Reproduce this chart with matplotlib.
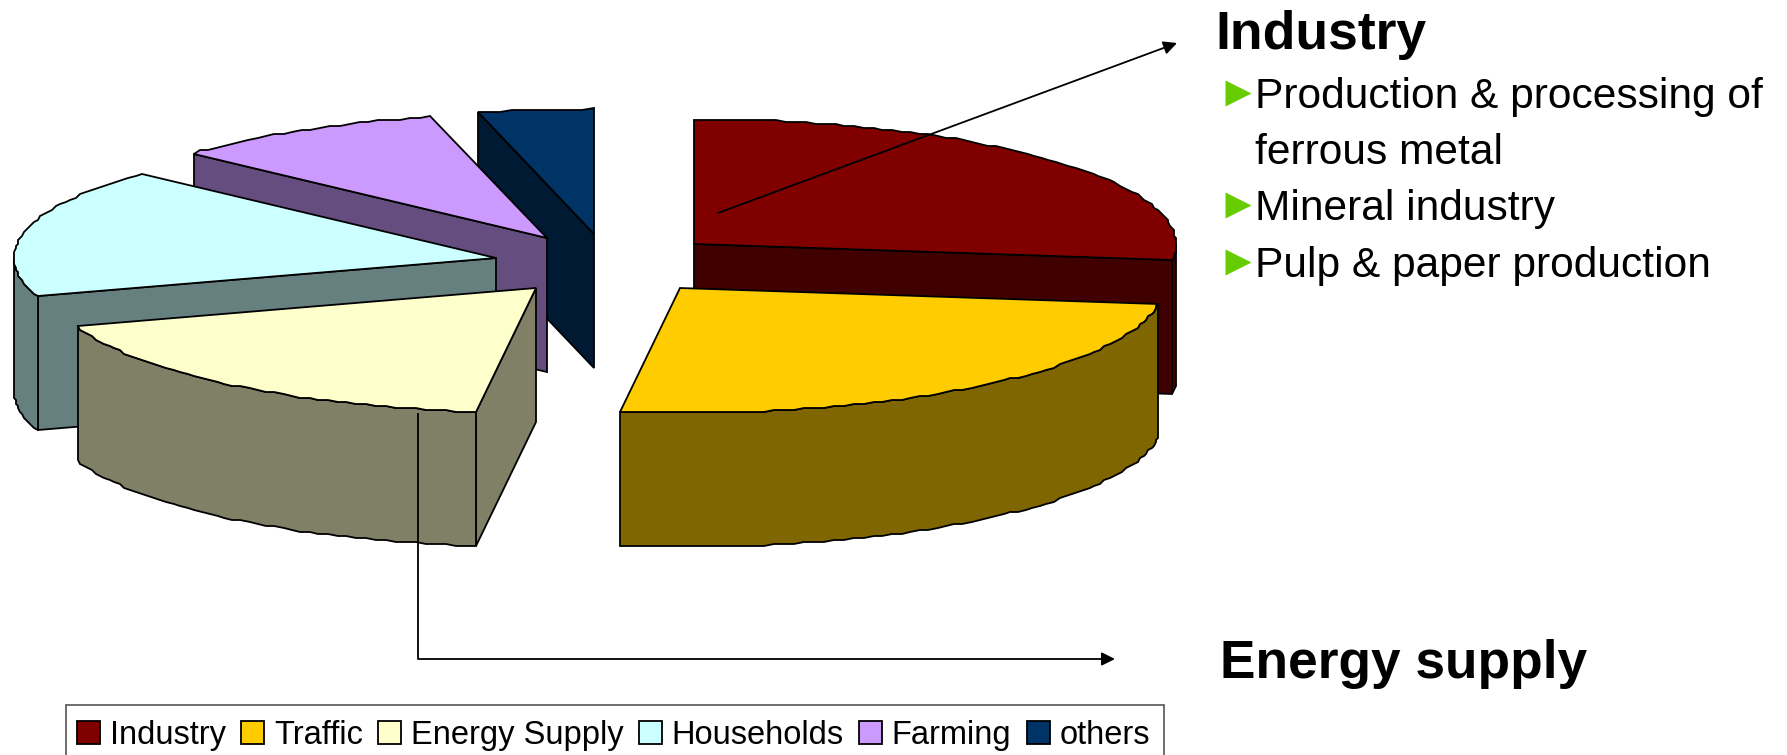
import matplotlib
matplotlib.use('Agg')
import matplotlib.pyplot as plt
import numpy as np
from matplotlib.patches import Patch, Polygon, Rectangle

plt.rcParams['font.family'] = ['Liberation Sans', 'DejaVu Sans']

# shares in percent
categories = ['Industry', 'Traffic', 'Energy Supply', 'Households', 'Farming', 'others']
shares = [27, 25, 18, 16.9, 9.2, 3.9]
top_colors = ['#800000', '#FFCC00', '#FFFFCC', '#CCFFFF', '#CC99FF', '#003366']
side_colors = ['#400000', '#806600', '#808066', '#668080', '#664D80', '#001A33']

industry_items = ['Production & processing of', 'ferrous metal', 'Mineral industry', 'Pulp & paper production']

# layout of the fake 3d pie, in pixels
apex_x = [694, 680, 536, 496, 547, 594]
apex_y = [244, 288, 288, 258, 238, 234]
radius_x = 482
radius_y = 125
depth = 134
draw_order = [5, 4, 3, 0, 2, 1]


def arc(cx, cy, start, end):
    t = np.radians(np.linspace(start, end, max(int(abs(end - start) / 1.2), 2)))
    x = cx + radius_x * np.sin(t)
    y = cy - radius_y * np.cos(t)
    # the original outline is slightly stepped
    return np.column_stack([np.round(x / 2) * 2, np.round(y / 2) * 2])


fig, ax = plt.subplots(figsize=(17.87, 7.55), dpi=100)
fig.subplots_adjust(0, 0, 1, 1)
ax.set_xlim(0, 1787)
ax.set_ylim(755, 0)
ax.axis('off')

edges = np.concatenate([[0], np.cumsum(shares)]) / np.sum(shares) * 360

for i in draw_order:
    cx, cy = apex_x[i], apex_y[i]
    start, end = edges[i], edges[i + 1]
    rim = arc(cx, cy, start, end)
    drop = np.array([0, depth])

    # radial cut faces, only the ones turned towards the viewer
    if start > 180:
        p = rim[0]
        ax.add_patch(Polygon([(cx, cy), p, p + drop, (cx, cy + depth)], fc=side_colors[i], ec='black', lw=1.3))
    if end < 180:
        p = rim[-1]
        ax.add_patch(Polygon([(cx, cy), p, p + drop, (cx, cy + depth)], fc=side_colors[i], ec='black', lw=1.3))

    # outer wall only where it faces the viewer
    lo, hi = max(start, 90), min(end, 270)
    if lo < hi:
        wall = arc(cx, cy, lo, hi)
        ax.add_patch(Polygon(np.vstack([wall, (wall + drop)[::-1]]), fc=side_colors[i], ec='black', lw=1.3))

    ax.add_patch(Polygon(np.vstack([[(cx, cy)], rim]), fc=top_colors[i], ec='black', lw=1.3, joinstyle='miter'))

arrow = dict(arrowstyle='-|>', color='black', lw=1.3, mutation_scale=20, shrinkA=0, shrinkB=0)
ax.annotate('', xy=(1177, 43), xytext=(718, 213), arrowprops=arrow)
ax.plot([418, 418], [413, 659], color='black', lw=1.3, solid_capstyle='butt')
ax.annotate('', xy=(1115, 659), xytext=(418, 659), arrowprops=arrow)

ax.text(1215, 49, 'Industry', fontsize=38.5, fontweight='bold', va='baseline')
ax.text(1220, 678, 'Energy supply', fontsize=38.3, fontweight='bold', va='baseline')

text_y = [108, 164, 220, 277]
for label, y in zip(industry_items, text_y):
    ax.text(1255, y, label, fontsize=30.6, va='baseline')
    if label != 'ferrous metal':
        ax.plot(1238, y - 15, marker='>', ms=18.5, color='#66CC00', mec='none')

# box runs off the bottom of the picture, so it is drawn apart from the legend
ax.add_patch(Rectangle((66, 705), 1098, 60, fc='white', ec='#555555', lw=1.2))
handles = [Patch(fc=c, ec='black', lw=1.3) for c in top_colors]
leg = ax.legend(handles, categories, ncol=6, fontsize=23.5, loc='upper left',
                bbox_to_anchor=(66, 708.5), bbox_transform=ax.transData,
                frameon=False, borderaxespad=0,
                handlelength=0.7, handleheight=0.7, handletextpad=0.3, columnspacing=0.47,
                borderpad=0.35)

fig.savefig('out.png', dpi=100)
